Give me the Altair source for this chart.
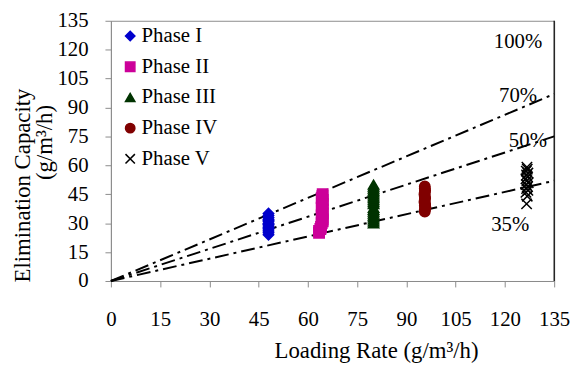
import altair as alt
import pandas as pd

phases = ["Phase I", "Phase II", "Phase III", "Phase IV", "Phase V"]
colors = ["#0000CC", "#CC0099", "#003300", "#800000", "#000000"]
shapes = ["diamond", "square", "triangle-up", "circle", "M-1,-1L1,1M-1,1L1,-1"]

p1_x = [48, 48, 48, 48, 48, 48, 48, 48, 48, 48, 48, 48, 48, 48, 48]
p1_y = [24, 25, 26, 27, 27.5, 28, 29, 29.5, 30, 31, 31.5, 32, 33, 34, 35]
p2_x = [63.4, 63.4, 63.8, 64, 64.2, 64.5, 64.5, 64.4, 64.2, 64.5, 64.3, 64.5, 64.2, 64.4, 64.5, 64.3, 64.5, 64.2, 64.4, 64.5]
p2_y = [25, 26, 27, 28, 30, 31, 32, 33, 34, 35, 36, 37, 38, 39, 40, 41, 42, 43, 44, 45]
p3_x = [80, 80, 80, 80, 80, 80, 80, 80, 80, 80, 80, 80, 80, 80, 80, 80, 80, 80, 80, 80]
p3_y = [30, 31, 32, 33, 34, 35, 36, 37, 38, 40, 41, 42, 43, 44, 45, 46, 47, 48, 49, 50]
p4_x = [95.6, 95.6, 95.8, 95.6, 95.7, 95.5, 95.6, 95.7, 95.6, 95.5, 95.6, 95.7, 95.6, 95.6]
p4_y = [36, 37, 38, 39, 40, 41, 42, 43, 44, 45, 46, 47, 48, 49]
p5_x = [126.6, 126.8, 126.4, 127.0, 126.6, 126.9, 126.5, 127.1, 126.7, 126.4, 126.9, 126.6, 127.0, 126.5, 126.8, 126.7]
p5_y = [40, 44, 46, 47, 48, 49, 50, 51, 52, 53, 54, 55, 56, 57, 58, 59]

line_names = ["70%", "50%", "35%"]
line_end_x = [135, 135, 135]
line_end_y = [97, 75, 52]

label_text = ["100%", "70%", "50%", "35%"]
label_x = [124, 124, 127, 121.6]
label_y = [124, 96, 72.5, 29]

rows = []
for name, xs, ys in zip(phases, [p1_x, p2_x, p3_x, p4_x, p5_x], [p1_y, p2_y, p3_y, p4_y, p5_y]):
    for a, b in zip(xs, ys):
        rows.append({"phase": name, "x": a, "y": b})
pts = pd.DataFrame(rows)

lrows = []
for n, ex, ey in zip(line_names, line_end_x, line_end_y):
    lrows.append({"line": n, "x": 0, "y": 0})
    lrows.append({"line": n, "x": ex, "y": ey})
lines_df = pd.DataFrame(lrows)

labels_df = pd.DataFrame({"t": label_text, "x": label_x, "y": label_y})

FONT = "Liberation Serif"
W, H = 448, 263
ticks = list(range(0, 136, 15))

xs = alt.Scale(domain=[0, 135], nice=False)
ys = alt.Scale(domain=[0, 135], nice=False)

xaxis = alt.Axis(values=ticks, title="Loading Rate (g/m³/h)", grid=False, labelOverlap=False, labelFlush=False,
                 domainColor="#8c8c8c", tickColor="#8c8c8c", tickSize=6,
                 labelFont=FONT, labelFontSize=21, labelColor="black", labelPadding=22,
                 titleFont=FONT, titleFontSize=23, titleFontWeight="normal", titleColor="black",
                 titleX=268, titleY=77, titleBaseline="alphabetic", titleAlign="center")
yaxis = alt.Axis(values=ticks, title="Elimination Capacity", grid=False, labelOverlap=False, labelFlush=False,
                 domainColor="#8c8c8c", tickColor="#8c8c8c", tickSize=6,
                 labelFont=FONT, labelFontSize=21, labelColor="black", labelPadding=17,
                 titleFont=FONT, titleFontSize=23, titleFontWeight="normal", titleColor="black",
                 titleX=-89, titleY=166, titleAngle=270, titleBaseline="middle", titleAlign="center")

X = alt.X("x:Q", scale=xs, axis=xaxis)
Y = alt.Y("y:Q", scale=ys, axis=yaxis)

lines = alt.Chart(lines_df).mark_line(color="black", strokeWidth=2, strokeDash=[14, 5, 3, 5]).encode(
    x=X, y=Y, detail="line:N",
)

cscale = alt.Scale(domain=phases, range=colors)
points = alt.Chart(pts).mark_point(filled=True, size=110, strokeWidth=1.5, opacity=1).encode(
    x=X, y=Y,
    fill=alt.Fill("phase:N", scale=cscale, legend=alt.Legend(title=None)),
    stroke=alt.Stroke("phase:N", scale=cscale, legend=alt.Legend(title=None)),
    shape=alt.Shape("phase:N", scale=alt.Scale(domain=phases, range=shapes), legend=alt.Legend(title=None)),
)

labels = alt.Chart(labels_df).mark_text(font=FONT, fontSize=21, color="black").encode(
    x=X, y=Y, text="t:N",
)

ytitle2 = alt.Chart(pd.DataFrame({"t": ["(g/m³/h)"]})).mark_text(
    font=FONT, fontSize=23, color="black", angle=270, baseline="middle", align="center"
).encode(x=alt.value(-67), y=alt.value(123), text="t:N")

right_border = alt.Chart(pd.DataFrame({"a": [0]})).mark_rule(color="black", strokeWidth=1.2).encode(
    x=alt.value(W), y=alt.value(0), y2=alt.value(H)
)

chart = alt.layer(lines, points, labels, ytitle2, right_border).properties(
    width=W, height=H,
    autosize=alt.AutoSizeParams(type="none"),
    padding={"left": 104, "top": 11, "right": 16, "bottom": 84},
).configure_view(stroke="#8c8c8c", strokeWidth=1).configure_legend(
    orient="none", legendX=9, legendY=5, padding=0,
    labelFont=FONT, labelFontSize=21, labelColor="black", labelOffset=1,
    symbolSize=90, symbolStrokeWidth=1.5, rowPadding=9,
)

chart.save("out.html", embed_options={"renderer": "svg", "actions": False})
